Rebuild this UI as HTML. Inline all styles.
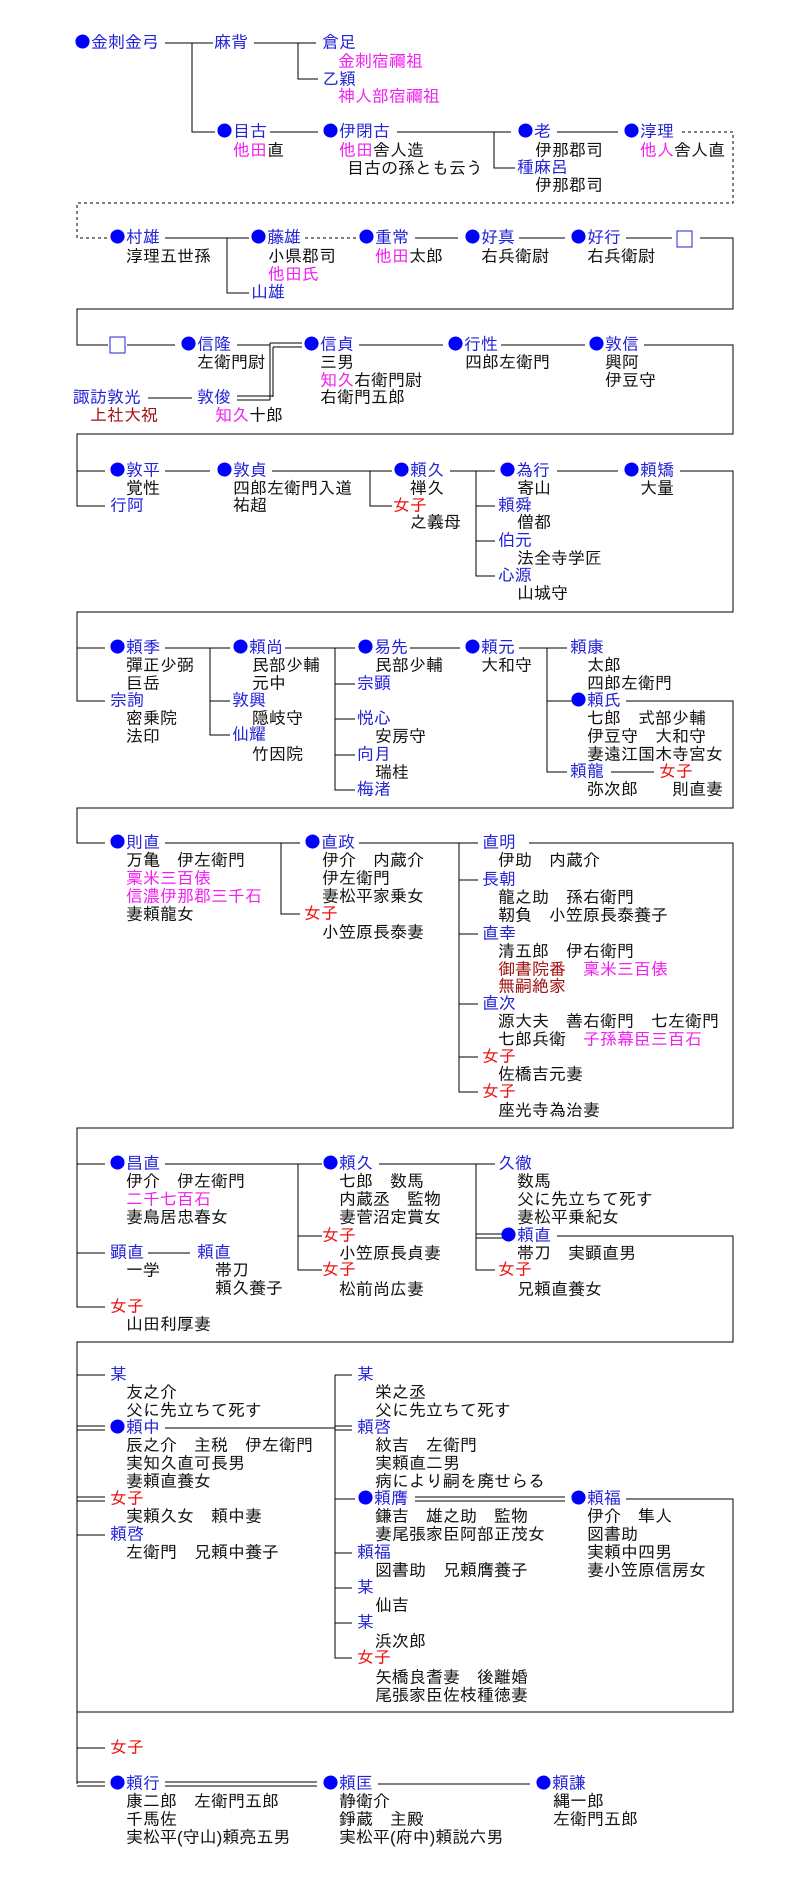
<!DOCTYPE html>
<html><head><meta charset="utf-8"><style>
body{margin:0;background:#fff;width:794px;height:1890px;position:relative;overflow:hidden}
.t{position:absolute;white-space:pre;font-family:"Liberation Sans","IPAGothic","Noto Sans CJK JP",sans-serif;font-size:17px;line-height:18px;color:#111}
.b{color:#2323d8}.m{color:#f020f0}.r{color:#f01010}.d{color:#a01010}
.o{color:#0000ff;font-family:"IPAGothic","Noto Sans CJK JP",sans-serif}
svg{position:absolute;left:0;top:0}
</style></head><body>
<svg width="794" height="1890" fill="none" stroke="#000" stroke-width="1" shape-rendering="crispEdges">
<path d="M165 43H213M192 43V132H215M254 43H316M298 43V79H318M270 132H318M397 132H511M494 132V168H515M557 132H618"/>
<path stroke-dasharray="3,3" d="M682 132H733V203H77V238H108M305 238H356"/>
<path d="M165 238H249M227 238V293H249M415 238H458M519 238H565M626 238H672M700 238H733V309H77V345H108M127 345H175M237 345H270"/>
<rect x="677" y="231" width="15" height="16" stroke="#2323d8"/>
<rect x="110" y="337" width="15" height="16" stroke="#2323d8"/>
<path d="M270 343V400M273 347V397M270 343H302M273 347H302M237 396H273M237 400H270M148 398H192M359 345H443M501 345H585M644 345H733V434H77V506H105M77 471H105"/>
<path d="M165 471H210M272 471H392M370 471V506H392M450 471H495M476 471V576H495M476 506H495M476 541H495M557 471H618M680 471H733V612H77V701H105M77 648H105"/>
<path d="M165 648H230M210 648V735H230M210 701H230M285 648H355M335 648V790H355M335 684H355M335 719H355M335 755H355M410 648H460M519 648H567M547 648V772H567M547 701H575M611 772H654M626 701H733V808H77V843H105"/>
<path d="M165 843H300M281 843V914H300M359 843H478M459 843V1092H478M459 880H478M459 934H478M459 1004H478M459 1057H478M529 843H733V1128H77V1307H105M77 1164H105M77 1253H105M148 1253H190"/>
<path d="M165 1164H322M298 1164V1270H322M298 1236H322M379 1164H495M476 1164V1270H495M476 1234H503M476 1238H503M557 1236H733V1342H77V1784M77 1375H105M77 1426H105M77 1430H105M165 1428H335M335 1426H352M335 1430H352M77 1497H105M77 1501H105M77 1535H105M335 1375H352M335 1375V1658H352M335 1499H355M335 1553H352M335 1588H352M335 1623H352M415 1497H565M415 1501H565M626 1499H733V1712H77M77 1748H105M77 1782H105M77 1786H105M165 1782H317M165 1786H317M378 1784H530"/>
</svg>
<div class="t b" style="left:74px;top:34px"><span class=o>●</span>金刺金弓</div>
<div class="t b" style="left:214px;top:34px">麻背</div>
<div class="t b" style="left:322px;top:34px">倉足</div>
<div class="t m" style="left:338px;top:53px">金刺宿禰祖</div>
<div class="t b" style="left:322px;top:71px">乙穎</div>
<div class="t m" style="left:338px;top:88px">神人部宿禰祖</div>
<div class="t b" style="left:216px;top:123px"><span class=o>●</span>目古</div>
<div class="t" style="left:233px;top:142px"><span class=m>他田</span>直</div>
<div class="t b" style="left:322px;top:123px"><span class=o>●</span>伊閉古</div>
<div class="t" style="left:339px;top:142px"><span class=m>他田</span>舎人造</div>
<div class="t" style="left:347px;top:160px">目古の孫とも云う</div>
<div class="t b" style="left:517px;top:123px"><span class=o>●</span>老</div>
<div class="t" style="left:535px;top:142px">伊那郡司</div>
<div class="t b" style="left:517px;top:159px">種麻呂</div>
<div class="t" style="left:535px;top:177px">伊那郡司</div>
<div class="t b" style="left:623px;top:123px"><span class=o>●</span>淳理</div>
<div class="t" style="left:640px;top:142px"><span class=m>他人</span>舎人直</div>

<div class="t b" style="left:109px;top:229px"><span class=o>●</span>村雄</div>
<div class="t" style="left:126px;top:248px">淳理五世孫</div>
<div class="t b" style="left:250px;top:229px"><span class=o>●</span>藤雄</div>
<div class="t" style="left:268px;top:248px">小県郡司</div>
<div class="t m" style="left:268px;top:266px">他田氏</div>
<div class="t b" style="left:251px;top:284px">山雄</div>
<div class="t b" style="left:358px;top:229px"><span class=o>●</span>重常</div>
<div class="t" style="left:375px;top:248px"><span class=m>他田</span>太郎</div>
<div class="t b" style="left:464px;top:229px"><span class=o>●</span>好真</div>
<div class="t" style="left:481px;top:248px">右兵衛尉</div>
<div class="t b" style="left:570px;top:229px"><span class=o>●</span>好行</div>
<div class="t" style="left:587px;top:248px">右兵衛尉</div>

<div class="t b" style="left:180px;top:336px"><span class=o>●</span>信隆</div>
<div class="t" style="left:197px;top:354px">左衛門尉</div>
<div class="t b" style="left:73px;top:389px">諏訪敦光</div>
<div class="t d" style="left:90px;top:407px">上社大祝</div>
<div class="t b" style="left:197px;top:389px">敦俊</div>
<div class="t" style="left:215px;top:407px"><span class=m>知久</span>十郎</div>
<div class="t b" style="left:303px;top:336px"><span class=o>●</span>信貞</div>
<div class="t" style="left:320px;top:354px">三男</div>
<div class="t" style="left:320px;top:372px"><span class=m>知久</span>右衛門尉</div>
<div class="t" style="left:320px;top:389px">右衛門五郎</div>
<div class="t b" style="left:447px;top:336px"><span class=o>●</span>行性</div>
<div class="t" style="left:465px;top:354px">四郎左衛門</div>
<div class="t b" style="left:588px;top:336px"><span class=o>●</span>敦信</div>
<div class="t" style="left:605px;top:354px">興阿</div>
<div class="t" style="left:605px;top:372px">伊豆守</div>

<div class="t b" style="left:109px;top:462px"><span class=o>●</span>敦平</div>
<div class="t" style="left:126px;top:480px">覚性</div>
<div class="t b" style="left:110px;top:497px">行阿</div>
<div class="t b" style="left:216px;top:462px"><span class=o>●</span>敦貞</div>
<div class="t" style="left:233px;top:480px">四郎左衛門入道</div>
<div class="t" style="left:233px;top:497px">祐超</div>
<div class="t b" style="left:393px;top:462px"><span class=o>●</span>頼久</div>
<div class="t" style="left:410px;top:480px">禅久</div>
<div class="t r" style="left:393px;top:497px">女子</div>
<div class="t" style="left:410px;top:514px">之義母</div>
<div class="t b" style="left:499px;top:462px"><span class=o>●</span>為行</div>
<div class="t" style="left:517px;top:480px">寄山</div>
<div class="t b" style="left:498px;top:497px">頼舜</div>
<div class="t" style="left:517px;top:514px">僧都</div>
<div class="t b" style="left:498px;top:532px">伯元</div>
<div class="t" style="left:517px;top:550px">法全寺学匠</div>
<div class="t b" style="left:498px;top:567px">心源</div>
<div class="t" style="left:517px;top:585px">山城守</div>
<div class="t b" style="left:623px;top:462px"><span class=o>●</span>頼矯</div>
<div class="t" style="left:640px;top:480px">大量</div>

<div class="t b" style="left:109px;top:639px"><span class=o>●</span>頼季</div>
<div class="t" style="left:126px;top:657px">彈正少弼</div>
<div class="t" style="left:126px;top:675px">巨岳</div>
<div class="t b" style="left:110px;top:692px">宗詢</div>
<div class="t" style="left:126px;top:710px">密乗院</div>
<div class="t" style="left:126px;top:728px">法印</div>
<div class="t b" style="left:232px;top:639px"><span class=o>●</span>頼尚</div>
<div class="t" style="left:252px;top:657px">民部少輔</div>
<div class="t" style="left:252px;top:675px">元中</div>
<div class="t b" style="left:232px;top:692px">敦興</div>
<div class="t" style="left:252px;top:710px">隠岐守</div>
<div class="t b" style="left:232px;top:726px">仙耀</div>
<div class="t" style="left:252px;top:746px">竹因院</div>
<div class="t b" style="left:357px;top:639px"><span class=o>●</span>易先</div>
<div class="t" style="left:375px;top:657px">民部少輔</div>
<div class="t b" style="left:357px;top:675px">宗顕</div>
<div class="t b" style="left:357px;top:710px">悦心</div>
<div class="t" style="left:375px;top:728px">安房守</div>
<div class="t b" style="left:357px;top:746px">向月</div>
<div class="t" style="left:375px;top:764px">瑞桂</div>
<div class="t b" style="left:357px;top:781px">梅渚</div>
<div class="t b" style="left:464px;top:639px"><span class=o>●</span>頼元</div>
<div class="t" style="left:481px;top:657px">大和守</div>
<div class="t b" style="left:570px;top:639px">頼康</div>
<div class="t" style="left:587px;top:657px">太郎</div>
<div class="t" style="left:587px;top:675px">四郎左衛門</div>
<div class="t b" style="left:570px;top:692px"><span class=o>●</span>頼氏</div>
<div class="t" style="left:587px;top:710px">七郎　式部少輔</div>
<div class="t" style="left:587px;top:728px">伊豆守　大和守</div>
<div class="t" style="left:587px;top:746px">妻遠江国木寺宮女</div>
<div class="t b" style="left:570px;top:763px">頼龍</div>
<div class="t r" style="left:659px;top:763px">女子</div>
<div class="t" style="left:587px;top:781px">弥次郎　　則直妻</div>

<div class="t b" style="left:109px;top:834px"><span class=o>●</span>則直</div>
<div class="t" style="left:126px;top:852px">万亀　伊左衛門</div>
<div class="t m" style="left:126px;top:870px">稟米三百俵</div>
<div class="t m" style="left:126px;top:888px">信濃伊那郡三千石</div>
<div class="t" style="left:126px;top:906px">妻頼龍女</div>
<div class="t b" style="left:304px;top:834px"><span class=o>●</span>直政</div>
<div class="t" style="left:322px;top:852px">伊介　内蔵介</div>
<div class="t" style="left:322px;top:870px">伊左衛門</div>
<div class="t" style="left:322px;top:888px">妻松平家乗女</div>
<div class="t r" style="left:304px;top:905px">女子</div>
<div class="t" style="left:322px;top:924px">小笠原長泰妻</div>
<div class="t b" style="left:482px;top:834px">直明</div>
<div class="t" style="left:498px;top:852px">伊助　内蔵介</div>
<div class="t b" style="left:482px;top:871px">長朝</div>
<div class="t" style="left:498px;top:889px">龍之助　孫右衛門</div>
<div class="t" style="left:498px;top:907px">靭負　小笠原長泰養子</div>
<div class="t b" style="left:482px;top:925px">直幸</div>
<div class="t" style="left:498px;top:943px">清五郎　伊右衛門</div>
<div class="t d" style="left:498px;top:961px">御書院番　<span class=m>稟米三百俵</span></div>
<div class="t d" style="left:498px;top:978px">無嗣絶家</div>
<div class="t b" style="left:482px;top:995px">直次</div>
<div class="t" style="left:498px;top:1013px">源大夫　善右衛門　七左衛門</div>
<div class="t" style="left:498px;top:1031px">七郎兵衛　<span class=m>子孫幕臣三百石</span></div>
<div class="t r" style="left:482px;top:1048px">女子</div>
<div class="t" style="left:498px;top:1066px">佐橋吉元妻</div>
<div class="t r" style="left:482px;top:1083px">女子</div>
<div class="t" style="left:498px;top:1102px">座光寺為治妻</div>

<div class="t b" style="left:109px;top:1155px"><span class=o>●</span>昌直</div>
<div class="t" style="left:126px;top:1173px">伊介　伊左衛門</div>
<div class="t m" style="left:126px;top:1191px">二千七百石</div>
<div class="t" style="left:126px;top:1209px">妻鳥居忠春女</div>
<div class="t b" style="left:110px;top:1244px">顕直</div>
<div class="t" style="left:126px;top:1262px">一学</div>
<div class="t b" style="left:197px;top:1244px">頼直</div>
<div class="t" style="left:215px;top:1262px">帯刀</div>
<div class="t" style="left:215px;top:1280px">頼久養子</div>
<div class="t r" style="left:110px;top:1298px">女子</div>
<div class="t" style="left:126px;top:1316px">山田利厚妻</div>
<div class="t b" style="left:322px;top:1155px"><span class=o>●</span>頼久</div>
<div class="t" style="left:339px;top:1173px">七郎　数馬</div>
<div class="t" style="left:339px;top:1191px">内蔵丞　監物</div>
<div class="t" style="left:339px;top:1209px">妻菅沼定賞女</div>
<div class="t r" style="left:322px;top:1227px">女子</div>
<div class="t" style="left:339px;top:1245px">小笠原長貞妻</div>
<div class="t r" style="left:322px;top:1261px">女子</div>
<div class="t" style="left:339px;top:1281px">松前尚広妻</div>
<div class="t b" style="left:498px;top:1155px">久徹</div>
<div class="t" style="left:517px;top:1173px">数馬</div>
<div class="t" style="left:517px;top:1191px">父に先立ちて死す</div>
<div class="t" style="left:517px;top:1209px">妻松平乗紀女</div>
<div class="t b" style="left:500px;top:1227px"><span class=o>●</span>頼直</div>
<div class="t" style="left:517px;top:1245px">帯刀　実顕直男</div>
<div class="t r" style="left:498px;top:1261px">女子</div>
<div class="t" style="left:517px;top:1281px">兄頼直養女</div>

<div class="t b" style="left:110px;top:1366px">某</div>
<div class="t" style="left:126px;top:1384px">友之介</div>
<div class="t" style="left:126px;top:1402px">父に先立ちて死す</div>
<div class="t b" style="left:109px;top:1419px"><span class=o>●</span>頼中</div>
<div class="t" style="left:126px;top:1437px">辰之介　主税　伊左衛門</div>
<div class="t" style="left:126px;top:1455px">実知久直可長男</div>
<div class="t" style="left:126px;top:1473px">妻頼直養女</div>
<div class="t r" style="left:110px;top:1490px">女子</div>
<div class="t" style="left:126px;top:1508px">実頼久女　頼中妻</div>
<div class="t b" style="left:110px;top:1526px">頼啓</div>
<div class="t" style="left:126px;top:1544px">左衛門　兄頼中養子</div>
<div class="t b" style="left:357px;top:1366px">某</div>
<div class="t" style="left:375px;top:1384px">栄之丞</div>
<div class="t" style="left:375px;top:1402px">父に先立ちて死す</div>
<div class="t b" style="left:357px;top:1419px">頼啓</div>
<div class="t" style="left:375px;top:1437px">紋吉　左衛門</div>
<div class="t" style="left:375px;top:1455px">実頼直二男</div>
<div class="t" style="left:375px;top:1473px">病により嗣を廃せらる</div>
<div class="t b" style="left:357px;top:1490px"><span class=o>●</span>頼膺</div>
<div class="t" style="left:375px;top:1508px">鎌吉　雄之助　監物</div>
<div class="t" style="left:375px;top:1526px">妻尾張家臣阿部正茂女</div>
<div class="t b" style="left:357px;top:1544px">頼福</div>
<div class="t" style="left:375px;top:1562px">図書助　兄頼膺養子</div>
<div class="t b" style="left:357px;top:1579px">某</div>
<div class="t" style="left:375px;top:1597px">仙吉</div>
<div class="t b" style="left:357px;top:1614px">某</div>
<div class="t" style="left:375px;top:1633px">浜次郎</div>
<div class="t r" style="left:357px;top:1649px">女子</div>
<div class="t" style="left:375px;top:1669px">矢橋良耆妻　後離婚</div>
<div class="t" style="left:375px;top:1687px">尾張家臣佐枝種徳妻</div>
<div class="t b" style="left:570px;top:1490px"><span class=o>●</span>頼福</div>
<div class="t" style="left:587px;top:1508px">伊介　隼人</div>
<div class="t" style="left:587px;top:1526px">図書助</div>
<div class="t" style="left:587px;top:1544px">実頼中四男</div>
<div class="t" style="left:587px;top:1562px">妻小笠原信房女</div>

<div class="t r" style="left:110px;top:1739px">女子</div>
<div class="t b" style="left:109px;top:1775px"><span class=o>●</span>頼行</div>
<div class="t" style="left:126px;top:1793px">康二郎　左衛門五郎</div>
<div class="t" style="left:126px;top:1811px">千馬佐</div>
<div class="t" style="left:126px;top:1829px">実松平(守山)頼亮五男</div>
<div class="t b" style="left:322px;top:1775px"><span class=o>●</span>頼匡</div>
<div class="t" style="left:339px;top:1793px">静衛介</div>
<div class="t" style="left:339px;top:1811px">錚蔵　主殿</div>
<div class="t" style="left:339px;top:1829px">実松平(府中)頼説六男</div>
<div class="t b" style="left:535px;top:1775px"><span class=o>●</span>頼謙</div>
<div class="t" style="left:553px;top:1793px">縄一郎</div>
<div class="t" style="left:553px;top:1811px">左衛門五郎</div>
</body></html>
